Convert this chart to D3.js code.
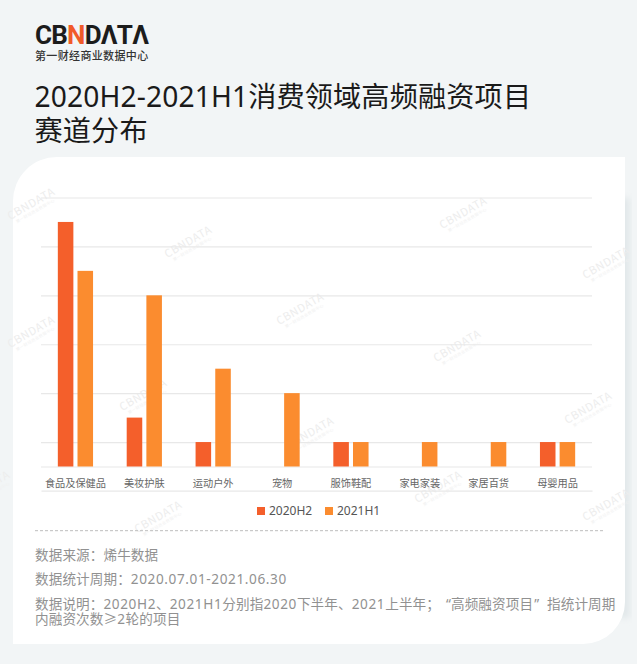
<!DOCTYPE html>
<html>
<head>
<meta charset="utf-8">
<script src="https://cdn.jsdelivr.net/npm/d3@7"></script>
<style>
  html, body { margin: 0; padding: 0; background: #fff; }
  svg { display: block; }
  text { font-family: "Noto Sans CJK SC", "Noto Sans", sans-serif; }
  .title, .note, .legend text { font-family: "Noto Sans", "Noto Sans CJK SC", sans-serif; }
</style>
</head>
<body>
<svg id="chart"></svg>
<script>
// Data
const categories = ['食品及保健品', '美妆护肤', '运动户外', '宠物', '服饰鞋配', '家电家装', '家居百货', '母婴用品'];
const seriesNames = ['2020H2', '2021H1'];
const values2020H2 = [10, 2, 1, 0, 1, 0, 0, 1];
const values2021H1 = [8, 7, 4, 3, 1, 1, 1, 1];
const gridTicks = [0, 1, 3, 5, 7, 9, 11];
const titleLines = ['2020H2-2021H1消费领域高频融资项目', '赛道分布'];
const noteLines = [
  '数据来源：烯牛数据',
  '数据统计周期：2020.07.01-2021.06.30',
  '数据说明：2020H2、2021H1分别指2020下半年、2021上半年；“高频融资项目”指统计周期',
  '内融资次数≥2轮的项目'
];
const noteBaselines = [560, 584, 609, 624];
// watermark centres
const markX = [33, 190, 465, 608, 33, 302, 459, 145, 312, 590, -12, 440, 160, 608];
const markY = [207, 245, 216, 266, 335, 312, 349, 398, 436, 411, 490, 490, 520, 508];

const colors = { '2020H2': '#f45f2b', '2021H1': '#fb8c2f' };
const width = 640;
const height = 664;

const svg = d3.select('#chart')
  .attr('width', width)
  .attr('height', height);

// Blur for the card shadow
svg.append('defs').append('filter')
  .attr('id', 'blur')
  .attr('x', '-10%').attr('y', '-10%').attr('width', '120%').attr('height', '120%')
  .append('feGaussianBlur')
  .attr('stdDeviation', 3);

// Page background
svg.append('rect')
  .attr('width', 637)
  .attr('height', height)
  .attr('fill', '#f2f5f6');

// Card: top-left and bottom-right corners are rounded
const cardPath = d3.path();
cardPath.moveTo(57, 157);
cardPath.lineTo(625, 157);
cardPath.lineTo(625, 602);
cardPath.arcTo(625, 644, 583, 644, 42);
cardPath.lineTo(13, 644);
cardPath.lineTo(13, 201);
cardPath.arcTo(13, 157, 57, 157, 44);
cardPath.closePath();

svg.append('rect')
  .attr('x', 618).attr('y', 198)
  .attr('width', 12).attr('height', 420)
  .attr('fill', '#e2e8ea')
  .attr('filter', 'url(#blur)');

svg.append('path')
  .attr('d', cardPath.toString())
  .attr('fill', '#fff');

// Watermarks
const marks = svg.append('g')
  .selectAll('g')
  .data(d3.range(markX.length))
  .enter()
  .append('g')
  .attr('transform', i => `translate(${markX[i]},${markY[i]}) rotate(-30)`);

marks.append('text')
  .attr('text-anchor', 'middle')
  .attr('font-size', 11)
  .attr('letter-spacing', 0.6)
  .attr('fill', '#ededed')
  .text('CBNDATA');

marks.append('text')
  .attr('text-anchor', 'middle')
  .attr('y', 6)
  .attr('font-size', 4)
  .attr('letter-spacing', 0.4)
  .attr('fill', '#f1f1f1')
  .text('第一财经商业数据中心');

// Logo
const logo = svg.append('text')
  .attr('x', 35)
  .attr('y', 44)
  .attr('font-size', 26)
  .attr('font-weight', 700)
  .attr('fill', '#1c1c1c')
  .attr('textLength', 114)
  .attr('lengthAdjust', 'spacing')
  .style('font-family', 'Roboto, sans-serif');
logo.append('tspan').text('CB');
logo.append('tspan').attr('fill', '#f15a29').text('N');
logo.append('tspan').text('DΛTΛ');

svg.append('text')
  .attr('x', 35)
  .attr('y', 60)
  .attr('font-size', 11)
  .attr('font-weight', 500)
  .attr('letter-spacing', 0.35)
  .attr('fill', '#333')
  .text('第一财经商业数据中心');

// Title
svg.selectAll('.title')
  .data(titleLines)
  .enter()
  .append('text')
  .attr('class', 'title')
  .attr('x', 34.5)
  .attr('y', (d, i) => 107 + i * 34)
  .attr('font-size', 28.2)
  .attr('letter-spacing', 0.12)
  .attr('fill', '#1a1a1a')
  .text(d => d);

// Scales
const x0 = d3.scaleBand()
  .domain(categories)
  .range([41, 592]);

const x1 = d3.scaleBand()
  .domain(seriesNames)
  .range([0, x0.bandwidth()])
  .paddingInner(0.21)
  .paddingOuter(0.855);

const y = d3.scaleLinear()
  .domain([0, 11])
  .range([466.5, 197.5]);

// Grid lines
const grid = svg.append('g')
  .attr('transform', 'translate(41,0)')
  .call(d3.axisLeft(y).tickValues(gridTicks).tickSize(-551).tickFormat(''));
grid.select('.domain').remove();
grid.selectAll('line')
  .attr('stroke', '#e8e8e8')
  .attr('stroke-width', 1.2);

// Category labels
const xAxis = svg.append('g')
  .attr('transform', 'translate(0,490.7)')
  .call(d3.axisBottom(x0).tickSize(0).tickPadding(0));
xAxis.select('.domain')
  .attr('stroke', '#e8e8e8')
  .attr('stroke-width', 1.2);
xAxis.selectAll('text')
  .attr('y', -4)
  .attr('dy', 0)
  .attr('font-size', 10.2)
  .attr('fill', '#666')
  .style('font-family', '"Noto Sans CJK SC", sans-serif');

// Bars
const barData = [];
categories.forEach((c, i) => {
  barData.push({ category: c, series: '2020H2', value: values2020H2[i] });
  barData.push({ category: c, series: '2021H1', value: values2021H1[i] });
});

svg.selectAll('.bar')
  .data(barData.filter(d => d.value > 0))
  .enter()
  .append('rect')
  .attr('class', 'bar')
  .attr('x', d => x0(d.category) + x1(d.series))
  .attr('y', d => y(d.value))
  .attr('width', x1.bandwidth())
  .attr('height', d => y(0) - y(d.value))
  .attr('fill', d => colors[d.series]);

// Legend
const legend = svg.selectAll('.legend')
  .data(seriesNames)
  .enter()
  .append('g')
  .attr('class', 'legend')
  .attr('transform', (d, i) => `translate(${257 + i * 68},507)`);

legend.append('rect')
  .attr('width', 8)
  .attr('height', 8)
  .attr('fill', d => colors[d]);

legend.append('text')
  .attr('x', 12)
  .attr('y', 8)
  .attr('font-size', 12)
  .attr('fill', '#555')
  .text(d => d);

// Divider
svg.append('line')
  .attr('x1', 35).attr('x2', 603)
  .attr('y1', 530.7).attr('y2', 530.7)
  .attr('stroke', '#bdbdbd')
  .attr('stroke-dasharray', '3,2');

// Notes: latin runs are tracked wider and the quotes sit in full-width cells
const isLatin = s => /^[0-9A-Za-z.\-]+$/.test(s);

svg.selectAll('.note')
  .data(noteLines)
  .enter()
  .append('text')
  .attr('class', 'note')
  .attr('x', 35)
  .attr('y', (d, i) => noteBaselines[i])
  .attr('font-size', 13.6)
  .attr('fill', '#919191')
  .selectAll('tspan')
  .data(d => d.split(/([0-9A-Za-z.\-]+|[“”])/).filter(s => s))
  .enter()
  .append('tspan')
  .attr('dx', s => (s === '“' ? 6 : s === '”' ? 1 : null))
  .attr('letter-spacing', s => (isLatin(s) ? 0.6 : s === '”' ? 8 : 0.1))
  .text(s => s);
</script>
</body>
</html>
